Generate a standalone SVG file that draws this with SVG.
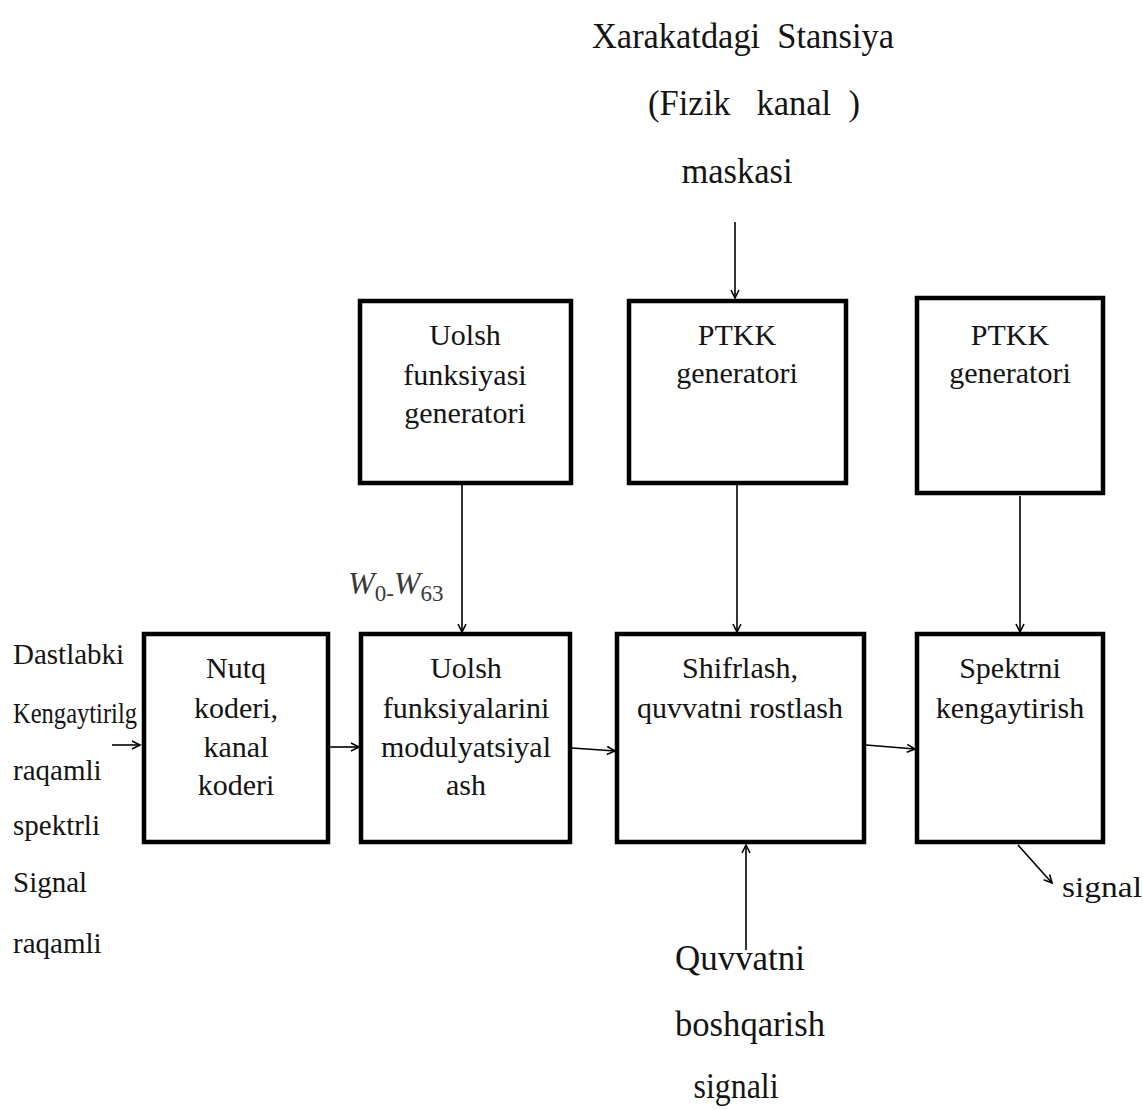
<svg xmlns="http://www.w3.org/2000/svg" width="1143" height="1110" viewBox="0 0 1143 1110">
  <defs>
    <marker id="ah" markerUnits="userSpaceOnUse" markerWidth="12" markerHeight="12" refX="10" refY="6" orient="auto">
      <path d="M2,2 L10,6 L2,10" fill="none" stroke="#000" stroke-width="1.6"/>
    </marker>
    <style>
      .box{fill:#fff;stroke:#000;stroke-width:4.5}
      .t{font-family:"Liberation Serif","Times New Roman",serif;font-size:30px;fill:#141414;text-anchor:middle}
      .lbl{font-family:"Liberation Serif","Times New Roman",serif;font-size:35px;fill:#141414;text-anchor:middle}
      .side{font-family:"Liberation Serif","Times New Roman",serif;font-size:29px;fill:#141414}
      .math{font-family:"Liberation Serif","Times New Roman",serif;font-style:italic;fill:#3a3a3a}
      .sub{font-style:normal}
      .wire{fill:none;stroke:#000;stroke-width:1.6;marker-end:url(#ah)}
    </style>
  </defs>
  <rect width="1143" height="1110" fill="#fff"/>

  <!-- connectors -->
  <g id="connectors">
    <path class="wire" d="M735,222 V298"/>
    <path class="wire" d="M462,485 V632"/>
    <path class="wire" d="M737,485 V632"/>
    <path class="wire" d="M1020,496 V632"/>
    <path class="wire" d="M112,745 H140"/>
    <path class="wire" d="M330,747 H359"/>
    <path class="wire" d="M572,748 L615,751"/>
    <path class="wire" d="M866,745 L915,749"/>
    <path class="wire" d="M746,950 V845"/>
    <path class="wire" d="M1018,845 L1052,883"/>
  </g>

  <!-- generator row -->
  <g id="walsh-generator">
    <rect class="box" x="360" y="301" width="211" height="182"/>
    <text class="t" x="465" y="345">Uolsh</text>
    <text class="t" x="465" y="385">funksiyasi</text>
    <text class="t" x="465" y="423">generatori</text>
  </g>
  <g id="ptkk-generator-1">
    <rect class="box" x="629" y="301" width="217" height="182"/>
    <text class="t" x="737" y="345">PTKK</text>
    <text class="t" x="737" y="383">generatori</text>
  </g>
  <g id="ptkk-generator-2">
    <rect class="box" x="917" y="298" width="186" height="195"/>
    <text class="t" x="1010" y="345">PTKK</text>
    <text class="t" x="1010" y="383">generatori</text>
  </g>

  <!-- processing chain -->
  <g id="speech-coder">
    <rect class="box" x="144" y="634" width="184" height="208"/>
    <text class="t" x="236" y="678">Nutq</text>
    <text class="t" x="236" y="718">koderi,</text>
    <text class="t" x="236" y="757">kanal</text>
    <text class="t" x="236" y="795">koderi</text>
  </g>
  <g id="walsh-modulation">
    <rect class="box" x="361" y="634" width="209" height="208"/>
    <text class="t" x="466" y="678">Uolsh</text>
    <text class="t" x="466" y="718">funksiyalarini</text>
    <text class="t" x="466" y="757">modulyatsiyal</text>
    <text class="t" x="466" y="795">ash</text>
  </g>
  <g id="scrambling">
    <rect class="box" x="617" y="634" width="247" height="208"/>
    <text class="t" x="740" y="678">Shifrlash,</text>
    <text class="t" x="740" y="718">quvvatni rostlash</text>
  </g>
  <g id="spreading">
    <rect class="box" x="917" y="634" width="186" height="208"/>
    <text class="t" x="1010" y="678">Spektrni</text>
    <text class="t" x="1010" y="718">kengaytirish</text>
  </g>

  <!-- free labels -->
  <g id="mask-label">
    <text class="lbl" x="743" y="48" textLength="302" lengthAdjust="spacingAndGlyphs">Xarakatdagi&#160; Stansiya</text>
    <text class="lbl" x="754" y="115" textLength="212" lengthAdjust="spacingAndGlyphs">(Fizik&#160;&#160; kanal&#160; )</text>
    <text class="lbl" x="737" y="183" textLength="111" lengthAdjust="spacingAndGlyphs">maskasi</text>
  </g>
  <g id="walsh-index">
    <text class="math" x="348" y="594" font-size="32">W<tspan class="sub" font-size="23" dy="7">0-</tspan><tspan dy="-7">W</tspan><tspan class="sub" font-size="23" dy="7">63</tspan></text>
  </g>
  <g id="input-label">
    <text class="side" x="13" y="664" font-size="25">Dastlabki</text>
    <text class="side" x="13" y="723" font-size="22" textLength="124" lengthAdjust="spacingAndGlyphs">Kengaytirilg</text>
    <text class="side" x="13" y="780" font-size="31">raqamli</text>
    <text class="side" x="13" y="835">spektrli</text>
    <text class="side" x="13" y="892" font-size="28">Signal</text>
    <text class="side" x="13" y="953" font-size="31">raqamli</text>
  </g>
  <g id="power-label">
    <text class="lbl" x="740" y="970" textLength="130" lengthAdjust="spacingAndGlyphs">Quvvatni</text>
    <text class="lbl" x="750" y="1036" textLength="150" lengthAdjust="spacingAndGlyphs">boshqarish</text>
    <text class="lbl" x="736" y="1098" textLength="85" lengthAdjust="spacingAndGlyphs">signali</text>
  </g>
  <g id="output-label">
    <text class="side" x="1062" y="897" font-size="35" textLength="80" lengthAdjust="spacingAndGlyphs">signal</text>
  </g>
</svg>
